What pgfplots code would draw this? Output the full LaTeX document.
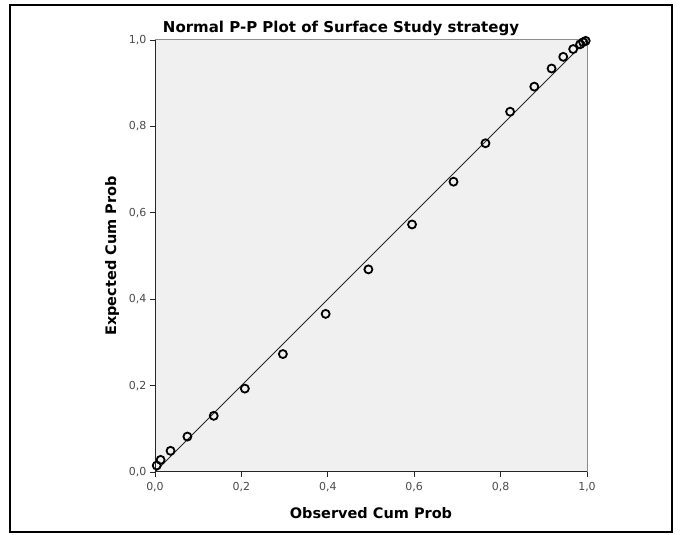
\documentclass[border=0pt]{standalone}
\usepackage{fontspec}
\setmainfont{DejaVu Sans}
\usepackage{pgfplots}
\pgfplotsset{compat=1.18}
\definecolor{panelbg}{HTML}{F0F0F0}
\definecolor{ticktext}{HTML}{4A4A4A}
\definecolor{rimgray}{HTML}{8C8C8C}

\pgfplotstableread{
obs    expd
0.004  0.015
0.013  0.028
0.036  0.049
0.075  0.082
0.136  0.130
0.208  0.193
0.296  0.273
0.395  0.366
0.494  0.469
0.595  0.573
0.691  0.672
0.765  0.761
0.822  0.834
0.878  0.892
0.918  0.934
0.945  0.961
0.968  0.979
0.984  0.990
0.991  0.995
0.997  0.998
}\pptable

\begin{document}
\begin{tikzpicture}
\useasboundingbox (0pt,0pt) rectangle (681pt,535pt);
% outer chart frame
\draw[line width=2pt, black] (10pt,3pt) rectangle (672pt,530pt);
% title
\node[anchor=base, font=\bfseries\fontsize{15}{18}\selectfont] at (341pt,502pt)
  {Normal P-P Plot of Surface Study strategy};
\begin{axis}[
  at={(155pt,63pt)}, anchor=south west,
  width=432pt, height=432pt, scale only axis,
  xmin=0, xmax=1, ymin=0, ymax=1,
  clip=false,
  axis background/.style={fill=panelbg},
  axis lines*=left,
  axis line style={-, line width=1pt, black!85},
  xtick={0,0.2,0.4,0.6,0.8,1},
  ytick={0,0.2,0.4,0.6,0.8,1},
  tick align=outside,
  major tick length=5pt,
  tick style={line width=0.9pt, black!85},
  /pgf/number format/.cd, use comma, fixed, fixed zerofill, precision=1, assume math mode=true,
  /pgfplots/.cd,
  tick label style={font=\fontsize{11}{13}\selectfont, text=ticktext},
  xticklabel style={yshift=-2pt},
  xlabel={Observed Cum Prob},
  ylabel={Expected Cum Prob},
  label style={font=\bfseries\fontsize{14.5}{17}\selectfont},
  xlabel style={yshift=-9pt},
  ylabel style={yshift=3pt},
]
% lighter upper and right border of the panel
\draw[rimgray, line width=1pt] (rel axis cs:0,1) -- (rel axis cs:1,1) -- (rel axis cs:1,0);
% reference diagonal
\addplot[black!85, line width=1pt] coordinates {(0,0) (1,1)};
% observed vs expected cumulative probabilities
\addplot[only marks, mark=o, mark size=4pt, mark options={line width=1.8pt, black}]
  table[x=obs, y=expd] {\pptable};
\end{axis}
\end{tikzpicture}
\end{document}
